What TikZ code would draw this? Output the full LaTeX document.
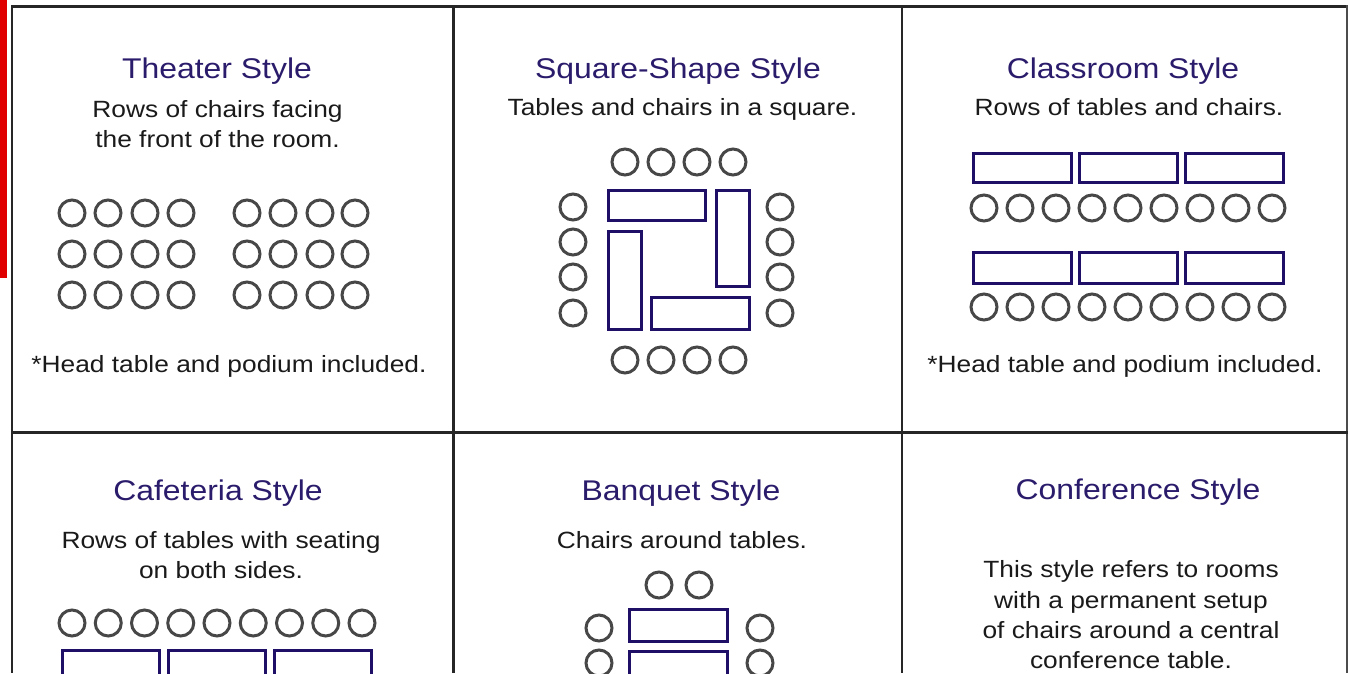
\documentclass[tikz,border=0pt]{standalone}
\usepackage{fontspec}
\setmainfont[FakeStretch=1.12]{Liberation Sans}
\definecolor{ttl}{HTML}{2B1B6B}
\definecolor{bdy}{HTML}{1A1A1A}
\definecolor{chr}{HTML}{474747}
\definecolor{tbc}{HTML}{1F0F66}
\definecolor{redbar}{HTML}{E00000}
\tikzset{
  title/.style={anchor=base, inner sep=0pt, text=ttl, font=\fontsize{28.5}{32}\selectfont},
  body/.style={anchor=base, inner sep=0pt, text=bdy, font=\fontsize{23.5}{28}\selectfont},
  chair/.style={circle, draw=chr, line width=3pt, minimum size=26pt, inner sep=0pt},
  tbl/.style={rectangle, draw=tbc, line width=3pt, inner sep=0pt},
  frame/.style={draw=black!85, line width=2.5pt}
}
\begin{document}
\begin{tikzpicture}[x=1pt,y=-1pt]
\clip (0,0) rectangle (1349,673);
\fill[white] (0,0) rectangle (1349,673);
% red bar
\fill[redbar] (0,0) rectangle (7,278);
% frame
\draw[frame, line width=3.2pt] (11,6.5) -- (1347.5,6.5);
\draw[frame, line width=2pt] (12,5) -- (12,673);
\draw[frame, line width=2pt, draw=black!70] (1346.5,5) -- (1346.5,673);
\draw[frame, line width=3pt] (11,432) -- (1347.5,432);
\draw[frame] (453.5,5) -- (453.5,673);
\draw[frame] (902,5) -- (902,673);

% ---------- Theater ----------
\node[title] (thT) at (217,78) {Theater Style};
\node[body] (thB1) at (217.5,117) {Rows of chairs facing};
\node[body] (thB2) at (217.5,147) {the front of the room.};
\foreach \y [count=\r] in {213,254,295}{
  \foreach \x [count=\c] in {72,108,145,181,247,283,320,355}{
    \node[chair] (th-\r-\c) at (\x,\y) {};
  }
}
\node[body] (thF) at (229,372) {*Head table and podium included.};

% ---------- Square ----------
\node[title] (sqT) at (678,78) {Square-Shape Style};
\node[body] (sqB) at (682.5,115) {Tables and chairs in a square.};
\foreach \x [count=\c] in {625,661,697,733}{
  \node[chair] (sq-top-\c) at (\x,162) {};
  \node[chair] (sq-bot-\c) at (\x,360) {};
}
\foreach \y [count=\r] in {207,242,277,313}{
  \node[chair] (sq-l-\r) at (573,\y) {};
  \node[chair] (sq-r-\r) at (780,\y) {};
}
\node[tbl, minimum width=97pt, minimum height=30pt] (sqA) at (657,205.5) {};
\node[tbl, minimum width=33pt, minimum height=96pt] (sqB2) at (733,238.5) {};
\node[tbl, minimum width=33pt, minimum height=98pt] (sqC) at (625,280.5) {};
\node[tbl, minimum width=98pt, minimum height=32pt] (sqD) at (700.5,313.5) {};

% ---------- Classroom ----------
\node[title] (clT) at (1123,78) {Classroom Style};
\node[body] (clB) at (1129,115) {Rows of tables and chairs.};
\foreach \x [count=\c] in {1022,1128.5,1234.5}{
  \node[tbl, minimum width=98pt, minimum height=29pt] (cl-t1-\c) at (\x,168) {};
  \node[tbl, minimum width=98pt, minimum height=31pt] (cl-t2-\c) at (\x,268) {};
}
\foreach \i in {0,...,8}{
  \node[chair] (cl-c1-\i) at (984+36*\i,208) {};
  \node[chair] (cl-c2-\i) at (984+36*\i,307) {};
}
\node[body] (clF) at (1125,372) {*Head table and podium included.};

% ---------- Cafeteria ----------
\node[title] (caT) at (218,500) {Cafeteria Style};
\node[body] (caB1) at (221,548) {Rows of tables with seating};
\node[body] (caB2) at (221,578) {on both sides.};
\foreach \i in {0,...,8}{
  \node[chair] (ca-c-\i) at (72+36.25*\i,623) {};
}
\foreach \x [count=\c] in {110.5,217,323}{
  \node[tbl, minimum width=97pt, minimum height=32pt] (ca-t-\c) at (\x,666.5) {};
}

% ---------- Banquet ----------
\node[title] (baT) at (681,500) {Banquet Style};
\node[body] (baB) at (682,548) {Chairs around tables.};
\node[chair] (ba-top-1) at (659,585) {};
\node[chair] (ba-top-2) at (699,585) {};
\foreach \y [count=\r] in {628,663}{
  \node[chair] (ba-l-\r) at (599,\y) {};
  \node[chair] (ba-r-\r) at (760,\y) {};
}
\node[tbl, minimum width=98pt, minimum height=32pt] (ba-t-1) at (678.5,625.5) {};
\node[tbl, minimum width=98pt, minimum height=32pt] (ba-t-2) at (678.5,667.5) {};

% ---------- Conference ----------
\node[title] (coT) at (1138,499) {Conference Style};
\node[body] (coB1) at (1131,577) {This style refers to rooms};
\node[body] (coB2) at (1131,608) {with a permanent setup};
\node[body] (coB3) at (1131,638) {of chairs around a central};
\node[body] (coB4) at (1131,668) {conference table.};
\end{tikzpicture}
\end{document}
